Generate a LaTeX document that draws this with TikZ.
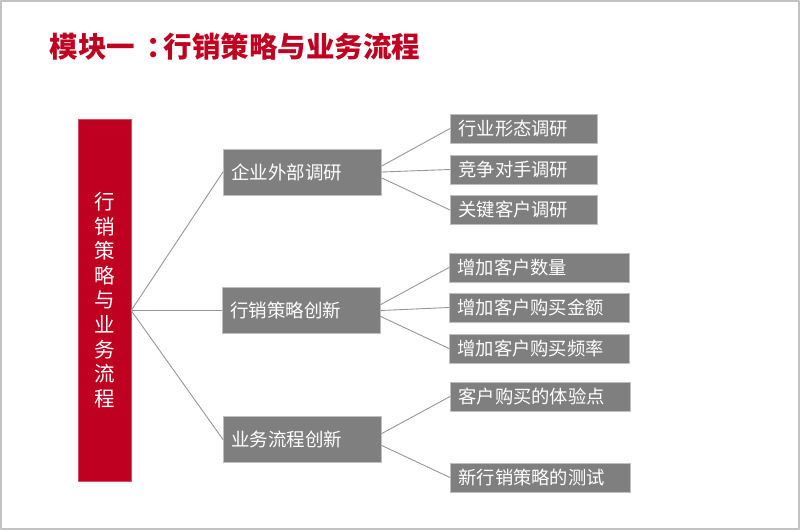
\documentclass[tikz,border=0pt]{standalone}
\usepackage{fontspec}
\newfontfamily\cjk{Noto Sans CJK SC}
\definecolor{mainred}{RGB}{192,0,33}
\definecolor{boxgray}{RGB}{127,127,127}
\definecolor{edgegray}{RGB}{191,191,191}
\definecolor{linegray}{RGB}{150,150,150}
\tikzset{
  box/.style={draw=edgegray, fill=boxgray, text=white, anchor=west, inner xsep=8pt, inner ysep=0pt, align=left, line width=0.8pt},
  midbox/.style={box, text width=142pt, minimum height=46pt, font=\cjk\fontsize{18.5}{20}\selectfont},
  leafbox/.style={box, text width=#1, minimum height=29pt, font=\cjk\fontsize{18.3}{20}\selectfont},
  link/.style={draw=linegray, line width=0.9pt}
}
\begin{document}
\begin{tikzpicture}[x=1pt,y=-1pt,font=\cjk,line join=round,line cap=round]
	\useasboundingbox (0,0) rectangle (800,530);
	\draw[edgegray!80!black!60, line width=1.5pt] (1,1) rectangle (799,529);
	\node[anchor=west, text=mainred, font=\cjk\bfseries\fontsize{28.5}{32}\selectfont] (title) at (46,47) {模块一\hspace{0.4em}：\hspace{-0.4em}行销策略与业务流程};
	% left column
	\node[fill=mainred, draw=mainred!70!white, minimum width=53pt, minimum height=362pt, inner sep=0pt, text=white, align=center, font=\cjk\fontsize{20.5}{24.6}\selectfont] (root) at (104.5,300) {行\\销\\策\\略\\与\\业\\务\\流\\程};
	% middle column
	\node[midbox] (ext) at (223,172) {企业外部调研};
	\node[midbox] (mkt) at (222,310.5) {行销策略创新};
	\node[midbox] (flow) at (223,439.5) {业务流程创新};
	\coordinate (fan) at (root.east |- mkt.west);
	\foreach \m in {ext,mkt,flow}
		\draw[link] (fan) -- (\m.west);
	% right column
	\node[leafbox=131pt] (ind) at (450,128.5) {行业形态调研};
	\node[leafbox=131pt] (comp) at (450,169.5) {竞争对手调研};
	\node[leafbox=131pt] (key) at (450,210) {关键客户调研};
	\node[leafbox=164pt] (num) at (449,267.5) {增加客户数量};
	\node[leafbox=164pt] (amt) at (449,307.5) {增加客户购买金额};
	\node[leafbox=164pt] (freq) at (449,348.5) {增加客户购买频率};
	\node[leafbox=164pt] (exp) at (450,396.5) {客户购买的体验点};
	\node[leafbox=164pt] (test) at (450,477.5) {新行销策略的测试};
	\foreach \p/\c/\s in {ext/ind/6, ext/comp/0, ext/key/-6, mkt/num/6, mkt/amt/0, mkt/freq/-6, flow/exp/6, flow/test/-6}
		\draw[link] ([yshift=\s pt]\p.east) -- (\c.west);
\end{tikzpicture}
\end{document}
